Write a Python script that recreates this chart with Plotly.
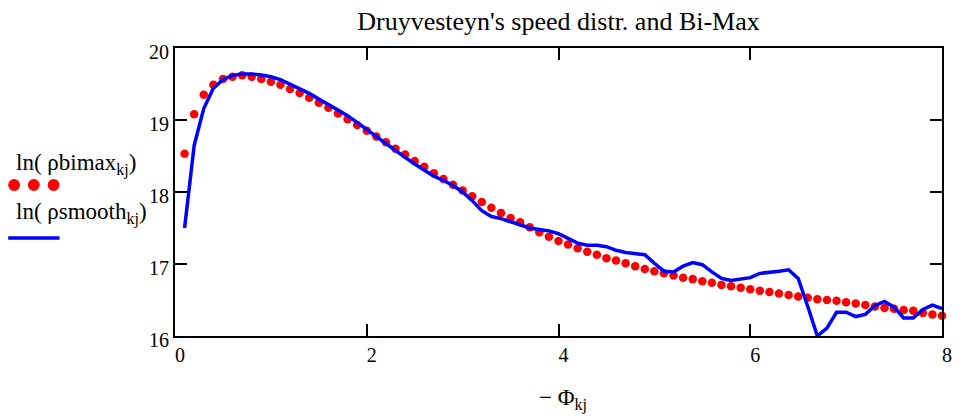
import plotly.graph_objects as go

x_bimax = [round(0.1 * i, 1) for i in range(1, 81)]
y_bimax = [18.53, 19.08, 19.35, 19.49, 19.57, 19.60, 19.62, 19.60, 19.57, 19.53,
           19.49, 19.43, 19.375, 19.31, 19.24, 19.17, 19.09, 19.01, 18.93, 18.85,
           18.77, 18.69, 18.60, 18.52, 18.43, 18.35, 18.26, 18.18, 18.10, 18.02,
           17.94, 17.86, 17.78, 17.71, 17.64, 17.58, 17.51, 17.44, 17.38, 17.32,
           17.27, 17.22, 17.17, 17.13, 17.08, 17.05, 17.01, 16.97, 16.93, 16.90,
           16.87, 16.84, 16.81, 16.79, 16.76, 16.74, 16.71, 16.69, 16.67, 16.65,
           16.63, 16.61, 16.59, 16.57, 16.55, 16.53, 16.51, 16.50, 16.49, 16.47,
           16.45, 16.43, 16.41, 16.39, 16.38, 16.36, 16.35, 16.32, 16.30, 16.28]

x_smooth = [round(0.1 * i, 1) for i in range(1, 81)]
y_smooth = [17.50, 18.65, 19.16, 19.44, 19.56, 19.62, 19.64, 19.64, 19.625, 19.60,
            19.56, 19.50, 19.435, 19.37, 19.29, 19.22, 19.14, 19.06, 18.97, 18.87,
            18.77, 18.67, 18.57, 18.48, 18.39, 18.31, 18.22, 18.16, 18.09, 18.00,
            17.88, 17.74, 17.66, 17.63, 17.59, 17.54, 17.50, 17.48, 17.46, 17.42,
            17.36, 17.29, 17.26, 17.26, 17.24, 17.19, 17.16, 17.15, 17.13, 17.01,
            16.90, 16.89, 16.97, 17.02, 16.99, 16.89, 16.80, 16.77, 16.79, 16.81,
            16.87, 16.88, 16.90, 16.92, 16.80, 16.41, 16.00, 16.11, 16.33, 16.33,
            16.27, 16.30, 16.42, 16.48, 16.40, 16.25, 16.25, 16.37, 16.43, 16.38]

x_ticks = [0, 2, 4, 6, 8]
y_ticks = [16, 17, 18, 19, 20]

title_text = "Druyvesteyn's speed distr. and Bi-Max"
legend_bimax = "ln( ρbimax<sub>kj</sub>)"
legend_smooth = "ln( ρsmooth<sub>kj</sub>)"
x_title = "− Φ<sub>kj</sub>"

FONT = "Liberation Serif"

fig = go.Figure()
fig.add_trace(go.Scatter(x=x_bimax, y=y_bimax, mode="markers",
                         marker=dict(color="#ff0000", size=8.5, line=dict(width=0)),
                         showlegend=False, cliponaxis=False))
fig.add_trace(go.Scatter(x=x_smooth, y=y_smooth, mode="lines",
                         line=dict(color="#0000ff", width=3.5),
                         showlegend=False, cliponaxis=False))

axis_common = dict(showgrid=False, zeroline=False, showline=True, linecolor="black",
                   linewidth=2, mirror="ticks", ticks="inside", ticklen=12,
                   tickwidth=2, tickcolor="black",
                   tickfont=dict(family=FONT, size=20, color="black"))

fig.update_layout(
    width=964, height=418,
    margin=dict(l=175, r=12, t=48, b=82),
    paper_bgcolor="white", plot_bgcolor="white",
    font=dict(family=FONT, color="black"),
    title=dict(text=title_text, xref="paper", x=0.5, xanchor="center",
               y=1 - 21 / 418, yanchor="middle",
               font=dict(family=FONT, size=26, color="black")),
    xaxis=dict(range=[0, 8], tickvals=x_ticks, ticktext=[str(v) for v in x_ticks],
               ticklabelshift=5, **axis_common),
    yaxis=dict(range=[16, 20], tickvals=y_ticks, ticktext=[str(v) for v in y_ticks],
               ticklabelshift=4, **axis_common),
)

fig.add_annotation(text=x_title, xref="paper", yref="paper",
                   x=0.506, y=-0.222, xanchor="center", yanchor="middle", showarrow=False,
                   font=dict(family=FONT, size=23, color="black"))
fig.add_annotation(text=legend_bimax, xref="paper", yref="paper",
                   x=(12 - 175) / 777, y=0.595, xanchor="left", yanchor="middle",
                   showarrow=False, font=dict(family=FONT, size=23, color="black"))
fig.add_annotation(text=legend_smooth, xref="paper", yref="paper",
                   x=(12 - 175) / 777, y=0.425, xanchor="left", yanchor="middle",
                   showarrow=False, font=dict(family=FONT, size=23, color="black"))
# legend symbols
for px in [12, 32, 52]:
    fig.add_shape(type="circle", xref="paper", yref="paper",
                  x0=(px - 6 - 175) / 777, x1=(px + 6 - 175) / 777,
                  y0=(336 - 185 - 6) / 288, y1=(336 - 185 + 6) / 288,
                  fillcolor="#ff0000", line=dict(width=0))
fig.add_shape(type="line", xref="paper", yref="paper",
              x0=(6 - 175) / 777, x1=(58 - 175) / 777,
              y0=(336 - 238) / 288, y1=(336 - 238) / 288,
              line=dict(color="#0000ff", width=3.5))

# remove the default page margin so the figure fills the window exactly
fig.write_html("out.html",
               config={"displayModeBar": False},
               post_script="document.body.style.margin='0';"
                           "document.body.style.overflow='hidden';")
